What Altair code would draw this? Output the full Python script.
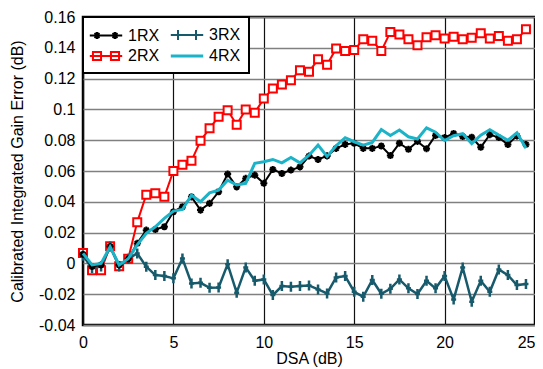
import altair as alt
import pandas as pd

# ---------------- data ----------------
dsa = [0.0, 0.5, 1.0, 1.5, 2.0, 2.5, 3.0, 3.5, 4.0, 4.5,
       5.0, 5.5, 6.0, 6.5, 7.0, 7.5, 8.0, 8.5, 9.0, 9.5,
       10.0, 10.5, 11.0, 11.5, 12.0, 12.5, 13.0, 13.5, 14.0, 14.5,
       15.0, 15.5, 16.0, 16.5, 17.0, 17.5, 18.0, 18.5, 19.0, 19.5,
       20.0, 20.5, 21.0, 21.5, 22.0, 22.5, 23.0, 23.5, 24.0, 24.5]

rx1 = [0.006, -0.002, -0.001, 0.011, -0.001, 0.003, 0.013, 0.0216, 0.022, 0.0238,
       0.0335, 0.0368, 0.0432, 0.0346, 0.039, 0.0465, 0.058, 0.0497, 0.0552, 0.0573,
       0.052, 0.061, 0.0584, 0.0606, 0.0627, 0.0697, 0.0675, 0.0698, 0.0747, 0.0773,
       0.078, 0.0747, 0.0747, 0.0762, 0.0701, 0.078, 0.0741, 0.0792, 0.0745, 0.0831,
       0.0817, 0.0844, 0.0824, 0.0819, 0.0754, 0.0836, 0.0817, 0.0772, 0.0828, 0.0772]

rx2 = [0.0067, -0.0044, -0.0044, 0.0112, -0.0018, 0.003, 0.0268, 0.0446, 0.0455, 0.0432,
       0.060, 0.064, 0.0666, 0.0796, 0.0877, 0.0952, 0.0995, 0.090, 0.100, 0.0978,
       0.107, 0.1136, 0.1162, 0.119, 0.1255, 0.1244, 0.1325, 0.129, 0.1396, 0.1379,
       0.1385, 0.1455, 0.1446, 0.138, 0.1502, 0.1487, 0.1455, 0.1417, 0.1468, 0.1482,
       0.146, 0.1471, 0.1455, 0.1465, 0.1494, 0.146, 0.1476, 0.1446, 0.1455, 0.152]

rx3 = [0.005, -0.003, -0.002, 0.011, -0.002, 0.003, 0.0065, -0.0022, -0.0076, -0.0082,
       -0.0097, 0.0032, -0.013, -0.0126, -0.0158, -0.0156, -0.0005, -0.019, -0.0026, -0.0113,
       -0.0104, -0.0206, -0.0147, -0.0152, -0.0147, -0.0143, -0.0169, -0.0195, -0.0091, -0.0082,
       -0.0184, -0.0217, -0.0108, -0.0197, -0.0165, -0.0104, -0.0162, -0.0199, -0.0113, -0.0162,
       -0.0082, -0.0234, -0.0026, -0.0249, -0.0113, -0.0184, -0.0039, -0.0076, -0.0141, -0.0134]

rx4 = [0.0065, -0.001, 0.000, 0.0108, -0.001, 0.003, 0.012, 0.0195, 0.0238, 0.0292,
       0.034, 0.035, 0.0443, 0.040, 0.0458, 0.0476, 0.054, 0.0509, 0.052, 0.065,
       0.066, 0.0675, 0.0653, 0.0688, 0.0653, 0.0703, 0.0768, 0.0695, 0.0764, 0.0816,
       0.079, 0.0768, 0.0786, 0.0869, 0.0831, 0.0866, 0.0822, 0.0808, 0.088, 0.0852,
       0.0798, 0.0829, 0.0842, 0.0778, 0.0833, 0.0868, 0.0833, 0.080, 0.0848, 0.0747]

series_names = ["1RX", "2RX", "3RX", "4RX"]
x_ticks = [0, 5, 10, 15, 20, 25]
y_ticks = [-0.04, -0.02, 0, 0.02, 0.04, 0.06, 0.08, 0.1, 0.12, 0.14, 0.16]

# ---------------- styles ----------------
FONT = "Liberation Sans"
colors = {"1RX": "#000000", "2RX": "#ff0000", "3RX": "#175a6c", "4RX": "#1bb3c8"}

rows = []
for name, vals in zip(series_names, [rx1, rx2, rx3, rx4]):
    for xv, yv in zip(dsa, vals):
        rows.append({"series": name, "dsa": xv, "err": yv})
df = pd.DataFrame(rows)

x_enc = alt.X("dsa:Q",
              scale=alt.Scale(domain=[0, 25], nice=False, zero=False),
              axis=alt.Axis(values=x_ticks, title="DSA (dB)", grid=True,
                            gridColor="#111111", gridWidth=1.2, ticks=False, domain=False,
                            labelPadding=9, labelFlush=False,
                            labelAlign={"condition": {"test": "datum.value >= 25",
                                                      "value": "right"},
                                        "value": "center"},
                            titleY=33, titleBaseline="middle"))
y_enc = alt.Y("err:Q",
              scale=alt.Scale(domain=[-0.04, 0.16], nice=False, zero=False),
              axis=alt.Axis(values=y_ticks, title="Calibrated Integrated Gain Error (dB)",
                            grid=True, gridColor="#808080", gridWidth=1.6, ticks=False,
                            domain=False, labelPadding=8,
                            labelExpr="replace(format(datum.value, '~g'), '\u2212', '-')",
                            titleX=-66, titleY=154, titleBaseline="middle",
                            titleAlign="center", titleAngle=270))

base = alt.Chart(df).encode(x=x_enc, y=y_enc)

star_path = "M-1,0L1,0M0,-1L0,1M-0.7,-0.7L0.7,0.7M-0.7,0.7L0.7,-0.7"
plus_path = "M0,-1L0,1M-0.5,0L0.5,0"


def line_layer(name, width):
    return base.transform_filter(alt.datum.series == name).mark_line(
        color=colors[name], strokeWidth=width)


layers = []
# 2RX
layers.append(line_layer("2RX", 2))
layers.append(base.transform_filter(alt.datum.series == "2RX").mark_point(
    shape="square", size=64, fill="white", stroke=colors["2RX"], strokeWidth=2,
    opacity=1, filled=True))
# 3RX
layers.append(line_layer("3RX", 2.5))
layers.append(base.transform_filter(alt.datum.series == "3RX").mark_point(
    shape=plus_path, size=100, stroke=colors["3RX"], strokeWidth=2.5,
    opacity=1, filled=False))
# 1RX
layers.append(line_layer("1RX", 2))
layers.append(base.transform_filter(alt.datum.series == "1RX").mark_point(
    shape=star_path, size=50, stroke=colors["1RX"], strokeWidth=2,
    opacity=1, filled=False))
# 4RX
layers.append(line_layer("4RX", 3))


# legend symbols: a short line with two markers (unit = 9 px)
def sym(kind):
    p = "M-1.8,0L1.8,0"
    if kind == "4RX":
        return "M-1.8,-0.06L1.8,-0.06M-1.8,0.06L1.8,0.06"
    for cx in (-1, 1):
        if kind == "1RX":
            r, d = 0.38, 0.27
            p += (f"M{cx - r},0L{cx + r},0M{cx},-{r}L{cx},{r}"
                  f"M{cx - d},-{d}L{cx + d},{d}M{cx - d},{d}L{cx + d},-{d}")
        elif kind == "2RX":
            h = 0.45
            p += f"M{cx - h},-{h}h{2 * h}v{2 * h}h-{2 * h}z"
        elif kind == "3RX":
            p += f"M{cx},-0.55L{cx},0.55"
    return p


leg = alt.Legend(title=None, orient="none", legendX=0, legendY=0, columns=2,
                 symbolSize=324, symbolStrokeWidth=2, symbolOffset=5,
                 labelOffset=12, labelFontSize=16, labelFont=FONT, labelColor="black",
                 labelExpr="datum.label + ' '",
                 columnPadding=6, rowPadding=2, padding=8,
                 fillColor="white", strokeColor="black")

legend_layer = base.transform_filter("datum.dsa < -100").mark_point(
    filled=False, opacity=1, size=324, strokeWidth=2).encode(
    color=alt.Color("series:N",
                    scale=alt.Scale(domain=series_names,
                                    range=[colors[n] for n in series_names]),
                    legend=leg),
    shape=alt.Shape("series:N",
                    scale=alt.Scale(domain=series_names,
                                    range=[sym(n) for n in series_names]),
                    legend=leg),
)
layers.append(legend_layer)

chart = alt.layer(*layers).properties(
    width=452, height=308,
    padding={"left": 75, "top": 9, "right": 0, "bottom": 44},
    autosize=alt.AutoSizeParams(type="none"),
).configure_view(
    stroke="black", strokeWidth=2.5
).configure_axis(
    labelFont=FONT, labelFontSize=16, labelColor="black",
    titleFont=FONT, titleFontSize=16, titleFontWeight="normal", titleColor="black",
).configure_legend(
    strokeWidth=2
)

chart.save("out.html", embed_options={"renderer": "svg", "actions": False})
